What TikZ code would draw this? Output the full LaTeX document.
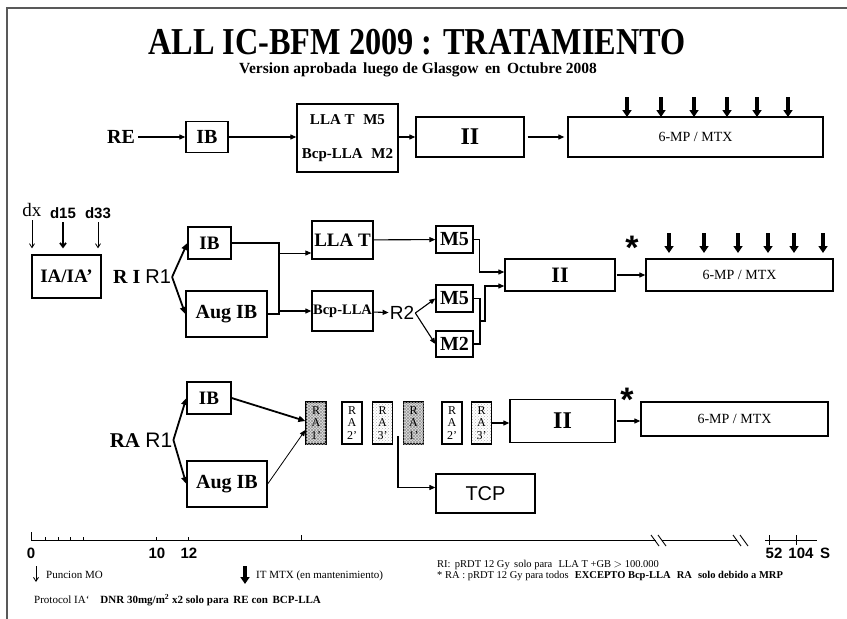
\documentclass[tikz,border=0pt]{standalone}
\usepackage{fontspec}
\setmainfont{Liberation Serif}
\newfontfamily\arialf{Liberation Sans}
\usetikzlibrary{arrows.meta,patterns}

\newcommand{\fsz}[1]{\fontsize{#1}{#1}\selectfont}

\tikzset{
  box/.style={draw, line width=1.3pt, inner sep=0pt, font=\bfseries},
  conn/.style={line width=1.1pt},
  arr/.style={conn, -{Triangle[length=6pt,width=5pt]}},
  boldarr/.style={line width=1.8pt, -{Triangle[length=7pt,width=6pt]}},
  fatarr/.style={line width=3.5pt, -{Triangle[length=7pt,width=9pt]}},
  thinarr/.style={line width=0.8pt, -{Straight Barb[length=4pt,width=5pt]}},
  hatch/.style={fill=gray!25,
    postaction={pattern=north east lines, pattern color=gray!80},
    postaction={pattern=north west lines, pattern color=gray!80}},
  dotty/.style={pattern=crosshatch dots, pattern color=gray!60},
  nofill/.style={fill=white},
  rabox/.style={draw, line width=1.2pt, inner sep=0pt, minimum width=20pt,
    minimum height=42pt, align=center, font={\fontsize{12}{12.5}\selectfont}},
  foot/.style={anchor=base west, inner sep=0pt, font=\fsz{11}},
  axnum/.style={font=\fsz{15}\arialf\bfseries},
}

\begin{document}
\begin{tikzpicture}[x=1pt, y=-1pt]
  \useasboundingbox (0,0) rectangle (847,619);

  % slide frame (top and left only)
  \draw[black!65, line width=2.5pt] (7,619) -- (7,8) -- (847,8);

  % title
  \node (title) at (417,42) {\fsz{38}\bfseries\scalebox{0.85}[1]{ALL IC-BFM 2009 : TRATAMIENTO}};
  \node (subtitle) at (418,70) {\fsz{15.5}\bfseries Version aprobada\, luego de Glasgow\, en\, Octubre 2008};

  % ---- RE ----
  \node[font=\fsz{20}\bfseries] (re) at (121,137) {RE};
  \node[box, minimum width=42pt, minimum height=31pt, font=\fsz{20}\bfseries] (ib1) at (207,137) {IB};
  \node[box, minimum width=101pt, minimum height=68pt, align=center,
        font={\fontsize{15}{34}\selectfont\bfseries}] (lla1) at (347.5,138)
        {LLA T\,\, M5\\Bcp-LLA\,\, M2};
  \node[box, minimum width=108pt, minimum height=40pt, font=\fsz{24}\bfseries] (ii1) at (470,137) {II};
  \node[box, minimum width=255pt, minimum height=40pt, font=\fsz{14}\mdseries] (mp1) at (695.5,137) {6-MP / MTX};

  \draw[arr] (re) -- (ib1);
  \draw[arr] (ib1) -- (ib1 -| lla1.west);
  \draw[arr] (ii1.west -| lla1.east) -- (ii1);
  \draw[arr] ([xshift=3pt]ii1.east) -- ([xshift=-3pt]mp1.west);

  \foreach \x in {627,661,694,727,757,788}
    \draw[fatarr] (\x,97) -- (\x,117);

  % ---- RI ----
  \node[font=\fsz{19}] (dx) at (32,210) {dx};
  \node[font=\fsz{15}\arialf\bfseries] (d15) at (63,213) {d15};
  \node[font=\fsz{15}\arialf\bfseries] (d33) at (98,213) {d33};
  \node[box, minimum width=69pt, minimum height=43pt, font=\fsz{19}\bfseries] (ia) at (66.5,276.5) {IA/IA'};

  \draw[thinarr, shorten >=6pt] (dx.south) -- (dx.south |- ia.north);
  \draw[line width=1.8pt, -{Straight Barb[length=4pt,width=6pt]}, shorten >=6pt] (d15.south) -- (d15.south |- ia.north);
  \draw[thinarr, shorten >=6pt] (d33.south) -- (d33.south |- ia.north);

  \node[inner sep=1pt] (ri) at (142,277) {\fsz{20}\bfseries R I \arialf\mdseries R1};
  \node[box, minimum width=43pt, minimum height=32pt, font=\fsz{19}\bfseries] (ib2) at (209.5,243) {IB};
  \node[box, minimum width=81pt, minimum height=46pt, font=\fsz{20}\bfseries] (aug2) at (226.5,314) {Aug IB};
  \node[box, minimum width=61pt, minimum height=38pt, font=\fsz{19}\bfseries] (lla2) at (342.5,240) {LLA T};
  \node[box, minimum width=61pt, minimum height=40pt, font=\fsz{14.5}\bfseries] (bcp2) at (342.5,311) {Bcp-LLA};
  \node[font=\fsz{19}\arialf, inner sep=1pt] (r2) at (402,313) {R2};
  \node[box, minimum width=37pt, minimum height=27pt, font=\fsz{20}\bfseries] (m5a) at (454.5,239.5) {M5};
  \node[box, minimum width=37pt, minimum height=27pt, font=\fsz{20}\bfseries] (m5b) at (454.5,298.5) {M5};
  \node[box, minimum width=37pt, minimum height=26pt, font=\fsz{20}\bfseries] (m2) at (454.5,344) {M2};
  \node[box, minimum width=110pt, minimum height=32pt, font=\fsz{22}\bfseries] (ii2) at (560,275) {II};
  \node[box, minimum width=187pt, minimum height=32pt, font=\fsz{14}\mdseries] (mp2) at (739.5,275) {6-MP / MTX};
  \node[font=\fsz{34}\arialf\bfseries] (star2) at (632,248) {*};

  \coordinate (jn) at (279,0);
  \coordinate (jm) at (480,321);

  \draw[boldarr] (ri.east) -- (ib2.west);
  \draw[boldarr] (ri.east) -- (aug2.west);
  \draw[conn] (ib2.east) -| (jn |- aug2.east) -- (aug2.east);
  \draw[line width=0.8pt, -{Triangle[length=6pt,width=5pt]}] (jn |- 0,253) -- (lla2.west |- 0,253);
  \draw[arr] (jn |- bcp2.west) -- (bcp2.west);
  \draw[arr] (bcp2) -- (r2);
  \draw[arr] (r2.east) -- (m5b.west);
  \draw[arr] (r2.east) -- (m2.west);
  \draw[arr] (lla2) -- (m5a);
  \draw[arr] (m5a.east) -- ++(6,0) |- ([yshift=3pt]ii2.west);
  \draw[conn] (m5b.east) -| (jm) |- (m2.east);
  \draw[arr] (jm) -- ++(5,0) |- ([yshift=-11pt]ii2.west);
  \draw[arr] ([xshift=1pt]ii2.east) -- (mp2.west);

  \foreach \x in {669,704,738,768,794,823}
    \draw[fatarr] (\x,233) -- (\x,253);

  % ---- RA ----
  \node[inner sep=1pt] (ra) at (141,440) {\fsz{21}\bfseries RA \arialf\mdseries R1};
  \node[box, minimum width=44pt, minimum height=32pt, font=\fsz{19}\bfseries] (ib3) at (209,398) {IB};
  \node[box, minimum width=80pt, minimum height=46pt, font=\fsz{20}\bfseries] (aug3) at (227,484) {Aug IB};

  \foreach \x/\n/\s [count=\i] in {316/1/hatch, 352/2/nofill, 382.5/3/dotty,
                                   413.5/1/hatch, 452/2/nofill, 481.5/3/dotty}
    \node[rabox, \s] (rab\i) at (\x,423) {R\\A\\\n'};

  \node[box, minimum width=105pt, minimum height=43pt, font=\fsz{24}\bfseries] (ii3) at (562.5,421) {II};
  \node[box, minimum width=187pt, minimum height=34pt, font=\fsz{14}\mdseries] (mp3) at (734.5,419) {6-MP / MTX};
  \node[box, minimum width=99pt, minimum height=39pt, font=\fsz{20}\arialf\mdseries] (tcp) at (485.5,493.5) {TCP};
  \node[font=\fsz{34}\arialf\bfseries] (star3) at (627,400) {*};

  \coordinate (tap) at (398,436);

  \draw[boldarr] (ra.east) -- (ib3.west);
  \draw[boldarr] (ra.east) -- (aug3.west);
  \draw[boldarr] (ib3.east) -- ([yshift=2pt]rab1.west);
  \draw[line width=0.8pt, -{Triangle[length=6pt,width=5pt]}] (aug3.east) -- ([yshift=-7pt]rab1.west);
  \draw[arr] (tap) |- ([yshift=6pt]tcp.west);
  \draw[arr] (rab6.east) -- (rab6.east -| ii3.west);
  \draw[arr] ([xshift=1pt]ii3.east) -- (ii3.east -| mp3.west);

  % ---- time axis (weeks) ----
  \draw[line width=1pt] (31,540) -- (656,540);
  \draw[line width=1pt] (662,540) -- (737,540);
  \draw[line width=1pt] (765,540) -- (817,540);
  \draw[line width=1pt] (31,532) -- (31,541);
  \foreach \x in {45,58,70,83,156,188}
    \draw[line width=1pt] (\x,537) -- (\x,540);
  \draw[line width=1pt] (301,535) -- (301,540);
  \foreach \x in {651,658,733,740}
    \draw[line width=0.9pt] (\x,535) -- ++(8,11);
  \foreach \x in {769,796}
    \draw[line width=1pt] (\x,535) -- (\x,545);

  \node[axnum] (t0) at (31,553) {0};
  \node[axnum] (t10) at (157,553) {10};
  \node[axnum] (t12) at (189,553) {12};
  \node[axnum] (t52) at (774,553) {52};
  \node[axnum] (t104) at (801,553) {104};
  \node[axnum] (ts) at (825,553) {S};

  % ---- notes ----
  \node[foot] (mo) at (46,578) {Puncion MO};
  \draw[thinarr] (36,566) -- (36,582);
  \node[foot] (itmtx) at (256,578) {IT MTX (en mantenimiento)};
  \draw[fatarr] (245,566) -- (245,584);
  \node[foot] (proto) at (34,603) {Protocol IA`\quad \textbf{DNR 30mg/m\textsuperscript{2} x2 solo para\, RE con\, BCP-LLA}};
  \node[foot, align=left, font={\fontsize{10.5}{11}\selectfont}] (notes) at (437,578)
    {RI:\, pRDT 12 Gy\, solo para\,\, LLA T +GB $>$ 100.000\\
     * RA : pRDT 12 Gy para todos\,\, \textbf{EXCEPTO Bcp-LLA\,\, RA\,\, solo debido a MRP}};
\end{tikzpicture}
\end{document}
